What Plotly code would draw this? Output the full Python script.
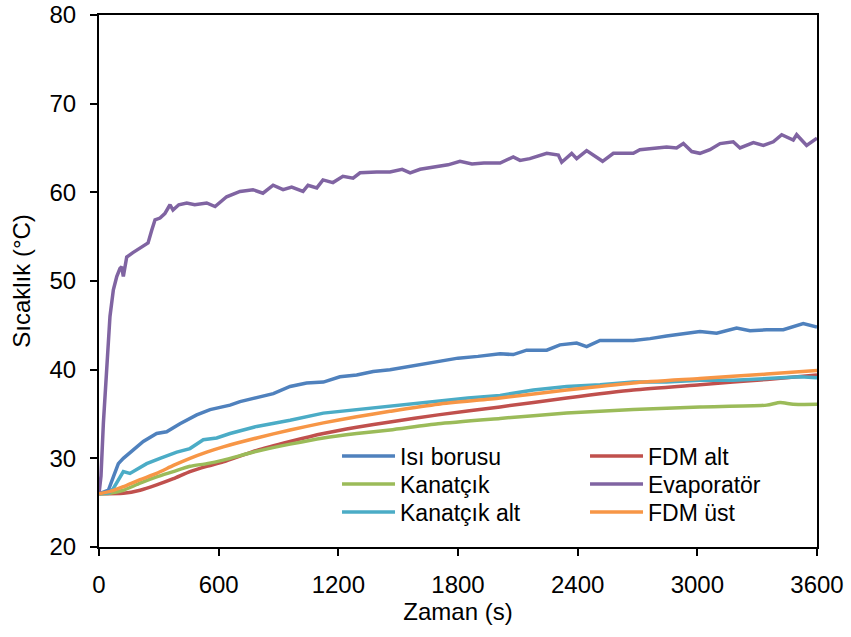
import plotly.graph_objects as go

# ---------------- data ----------------
t_isi = [0, 47, 72, 97, 122, 172, 222, 289, 339, 406, 490, 557, 623, 657, 707, 791, 874, 958, 1041, 1125,
         1208, 1292, 1375, 1459, 1600, 1700, 1800, 1900, 2011, 2077, 2144, 2245, 2311, 2395, 2445, 2512, 2679,
         2763, 2846, 3013, 3097, 3197, 3264, 3348, 3431, 3531, 3600]
y_isi = [26, 26.4, 27.9, 29.4, 30, 30.9, 31.9, 32.8, 33, 33.9, 34.9, 35.5, 35.8, 36, 36.4, 36.9, 37.3, 38.1, 38.5, 38.6,
         39.2, 39.4, 39.8, 40, 40.5, 40.9, 41.3, 41.5, 41.8, 41.7, 42.2, 42.2, 42.8, 43, 42.6, 43.3, 43.3,
         43.5, 43.8, 44.3, 44.1, 44.7, 44.4, 44.5, 44.5, 45.2, 44.8]

t_kan = [0, 60, 122, 206, 289, 373, 456, 540, 623, 791, 958, 1125, 1292, 1459, 1700, 2011, 2345, 2679, 3013, 3348,
         3415, 3480, 3600]
y_kan = [26, 26.1, 26.4, 27.2, 27.9, 28.5, 29.1, 29.4, 29.8, 30.8, 31.6, 32.3, 32.8, 33.2, 33.9, 34.5, 35.1, 35.5, 35.8, 36.0,
         36.3, 36.1, 36.1]

t_kalt = [0, 50, 72, 97, 122, 155, 239, 306, 390, 456, 523, 590, 657, 791, 958, 1125, 1292, 1459, 1650, 1850,
          2011, 2178, 2345, 2512, 2679, 2846, 3013, 3180, 3348, 3515, 3600]
y_kalt = [26, 26.1, 26.6, 27.6, 28.5, 28.3, 29.4, 30, 30.7, 31.1, 32.1, 32.3, 32.8, 33.6, 34.3, 35.1, 35.5, 35.9, 36.4, 36.8,
          37.1, 37.7, 38.1, 38.3, 38.6, 38.6, 38.8, 38.8, 39.0, 39.2, 39.1]

t_falt = [0, 122, 206, 289, 373, 456, 540, 623, 791, 958, 1125, 1292, 1459, 1700, 2011, 2345, 2679, 3013, 3348, 3600]
y_falt = [26, 26.05, 26.4, 27.0, 27.7, 28.5, 29.1, 29.6, 30.9, 31.9, 32.8, 33.5, 34.1, 34.9, 35.8, 36.8, 37.7, 38.3, 38.9, 39.4]

t_evap = [0, 10, 22, 39, 55, 72, 89, 105, 114, 122, 139, 170, 206, 246, 264, 281, 306, 330, 356, 371,
          400, 440, 480, 540, 582, 640, 707, 772, 822, 873, 923, 966, 1023, 1048, 1092, 1123, 1173, 1223, 1274, 1309,
          1392, 1459, 1520, 1560, 1610, 1680, 1750, 1810, 1870, 1930, 2011, 2077, 2111, 2160, 2245, 2303, 2320, 2370,
          2395, 2445, 2525, 2579, 2679, 2712, 2779, 2846, 2896, 2930, 2972, 3013, 3063, 3114, 3180, 3214, 3281, 3331,
          3381, 3423, 3481, 3498, 3548, 3600]
y_evap = [26, 28, 34, 40.3, 46, 49, 50.5, 51.4, 51.6, 50.5, 52.7, 53.2, 53.7, 54.3, 55.7, 56.9, 57.1, 57.6, 58.6, 58.0,
          58.6, 58.8, 58.6, 58.8, 58.4, 59.5, 60.1, 60.3, 59.9, 60.8, 60.3, 60.6, 60.1, 60.8, 60.5, 61.4, 61.1, 61.8, 61.6, 62.2,
          62.3, 62.3, 62.6, 62.2, 62.6, 62.9, 63.1, 63.5, 63.2, 63.3, 63.3, 64.0, 63.6, 63.8, 64.4, 64.2, 63.4, 64.4,
          63.8, 64.7, 63.5, 64.4, 64.4, 64.8, 65.0, 65.1, 65.0, 65.5, 64.6, 64.4, 64.8, 65.5, 65.7, 65.0, 65.6, 65.3,
          65.7, 66.5, 65.9, 66.5, 65.3, 66.1]

t_fust = [0, 60, 122, 206, 289, 373, 456, 540, 623, 791, 958, 1125, 1292, 1459, 1700, 2011, 2345, 2679, 3013, 3348, 3600]
y_fust = [26, 26.3, 26.8, 27.6, 28.3, 29.2, 30, 30.7, 31.3, 32.3, 33.2, 34, 34.7, 35.3, 36.1, 36.8, 37.7, 38.5, 39.0, 39.5, 39.9]

x_ticks = [0, 600, 1200, 1800, 2400, 3000, 3600]
y_ticks = [20, 30, 40, 50, 60, 70, 80]

FONT = "Liberation Sans, Arial, sans-serif"

# (name, x, y, color, legend, rank, smooth)
series = [
    ("FDM alt", t_falt, y_falt, "#C0504D", "legend", 2, True),
    ("Kanatçık", t_kan, y_kan, "#9BBB59", "legend2", 1, True),
    ("Isı borusu", t_isi, y_isi, "#4F81BD", "legend", 1, False),
    ("Kanatçık alt", t_kalt, y_kalt, "#4BACC6", "legend3", 1, False),
    ("Evaporatör", t_evap, y_evap, "#8064A2", "legend2", 2, False),
    ("FDM üst", t_fust, y_fust, "#F79646", "legend3", 2, True),
]

fig = go.Figure()
for name, xs, ys, col, lg, rank, smooth in series:
    fig.add_trace(go.Scatter(
        x=xs, y=ys, name=name, mode="lines", legend=lg, legendrank=rank,
        line=dict(color=col, width=3.5, shape="spline" if smooth else "linear", smoothing=0.6),
    ))

leg_common = dict(orientation="h", xanchor="left", yanchor="top", x=0.3315,
                  font=dict(family=FONT, size=23, color="black"), bgcolor="rgba(0,0,0,0)",
                  borderwidth=0, itemwidth=53, entrywidth=180, entrywidthmode="pixels",
                  traceorder="normal", itemclick=False)

fig.update_layout(
    width=851, height=637,
    margin=dict(l=99, r=34, t=15, b=90, autoexpand=False),
    paper_bgcolor="white", plot_bgcolor="white",
    font=dict(family=FONT, size=24, color="black"),
    showlegend=True,
    legend=dict(leg_common, y=0.2114),
    legend2=dict(leg_common, y=0.1588),
    legend3=dict(leg_common, y=0.1062),
    xaxis=dict(range=[0, 3600], tickvals=x_ticks, ticktext=[str(v) for v in x_ticks],
               showline=True, linecolor="black", linewidth=2, mirror=True,
               ticks="outside", ticklen=7, tickwidth=2, tickcolor="black",
               showgrid=False, zeroline=False, ticklabelstandoff=8, automargin=False,
               tickfont=dict(family=FONT, size=24, color="black"),
               title=dict(text="Zaman (s)", standoff=6, font=dict(family=FONT, size=24, color="black"))),
    yaxis=dict(range=[20, 80], tickvals=y_ticks, ticktext=[str(v) for v in y_ticks],
               showline=True, linecolor="black", linewidth=2, mirror=True,
               ticks="outside", ticklen=7, tickwidth=2, tickcolor="black",
               showgrid=False, zeroline=False, ticklabelstandoff=9, automargin=False,
               tickfont=dict(family=FONT, size=24, color="black"),
               title=dict(text="Sıcaklık (°C)", standoff=12, font=dict(family=FONT, size=24, color="black"))),
)

fig.write_html("out.html")
